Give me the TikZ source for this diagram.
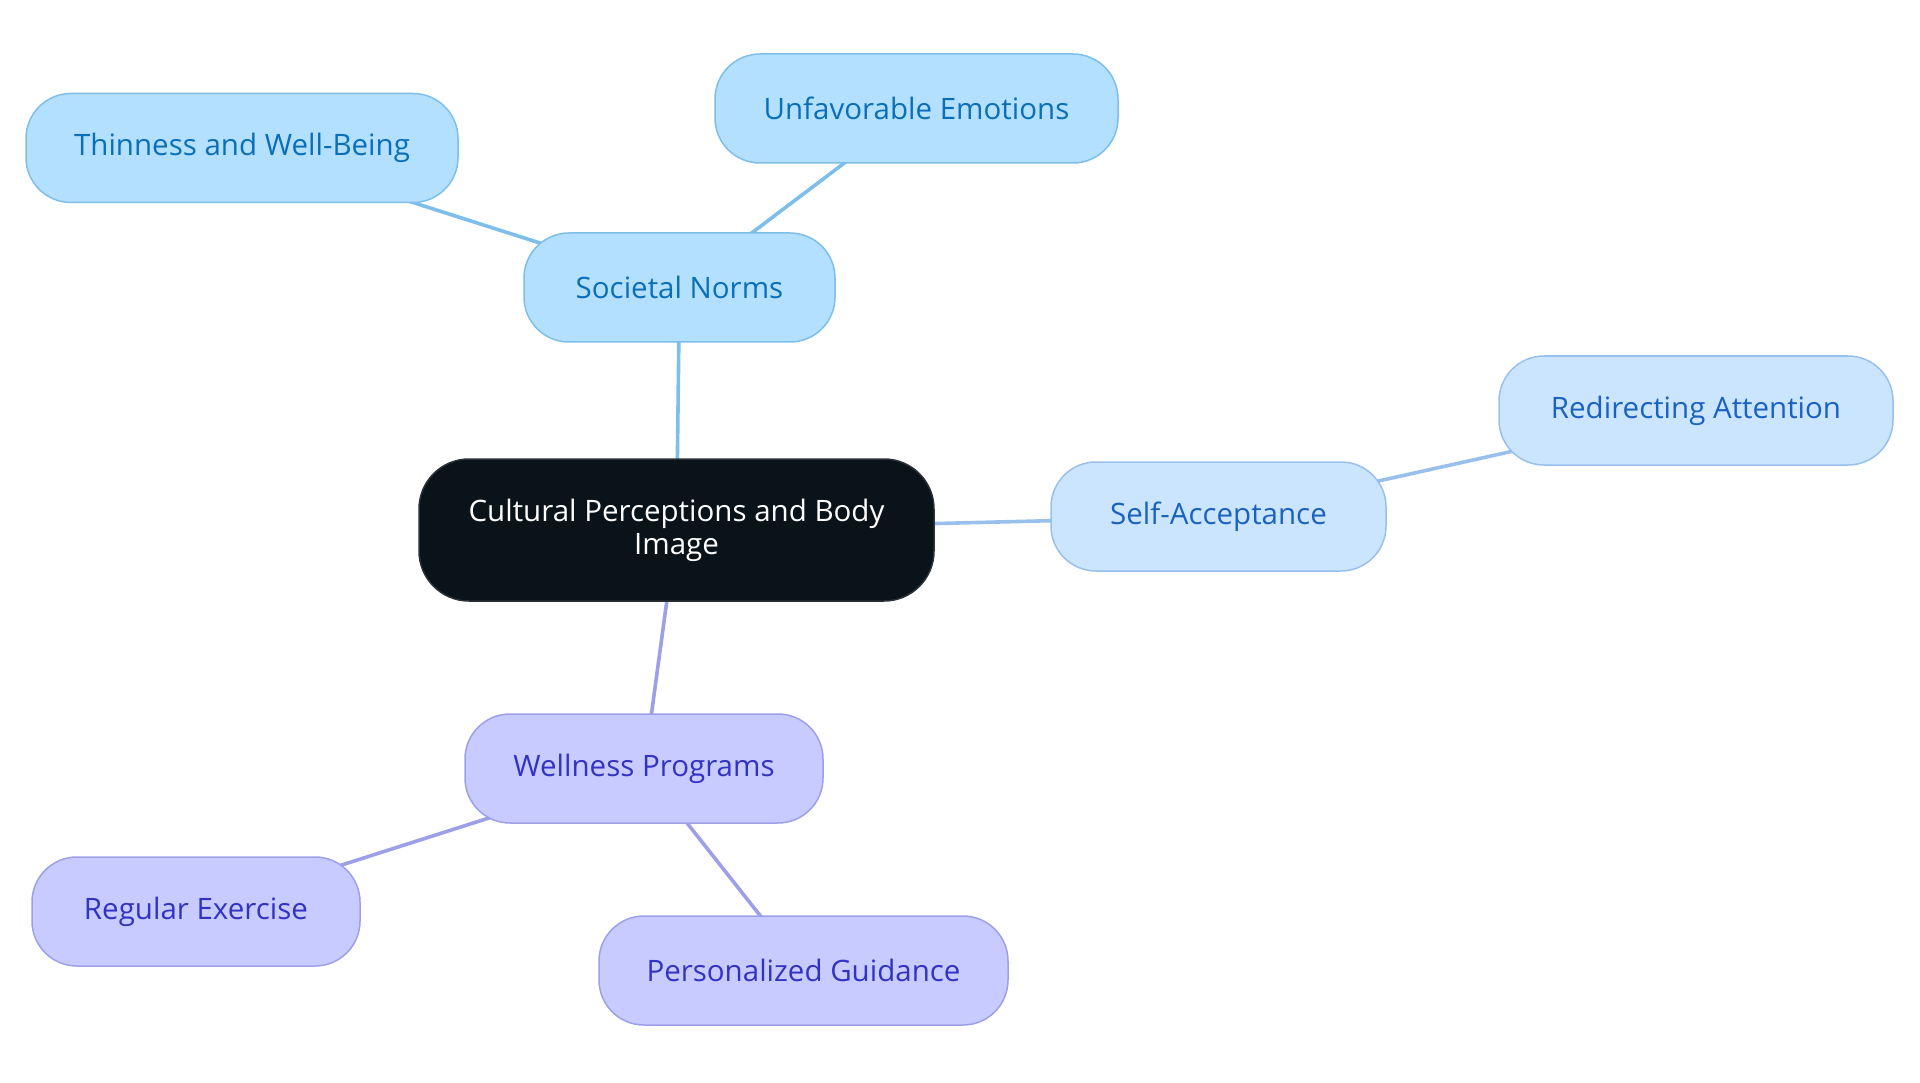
\documentclass[tikz,border=0pt]{standalone}
\usepackage{fontspec}
\setmainfont{Open Sans}
\usetikzlibrary{backgrounds}
\definecolor{snFill}{HTML}{B3E0FF}
\definecolor{snLine}{HTML}{7DBFEA}
\definecolor{snText}{HTML}{0B6FB8}
\definecolor{saFill}{HTML}{CCE5FF}
\definecolor{saLine}{HTML}{99C0EC}
\definecolor{saText}{HTML}{1A62C0}
\definecolor{wpFill}{HTML}{C8CBFF}
\definecolor{wpLine}{HTML}{9DA0E8}
\definecolor{wpText}{HTML}{3333C2}
\definecolor{ctFill}{HTML}{0B131A}
\definecolor{ctLine}{HTML}{2C3137}
\tikzset{
  pill/.style={draw, line width=1.5pt, rounded corners=45pt, minimum height=109pt, inner sep=0pt, font=\fontsize{29.5}{33}\selectfont},
  sn/.style={pill, fill=snFill, draw=snLine, text=snText},
  sa/.style={pill, fill=saFill, draw=saLine, text=saText},
  wp/.style={pill, fill=wpFill, draw=wpLine, text=wpText},
  ct/.style={draw=ctLine, fill=ctFill, text=white, line width=1.5pt, rounded corners=50pt, minimum width=515pt, minimum height=142pt, inner sep=0pt, align=center, font=\fontsize{29.5}{33}\selectfont},
  snE/.style={draw=snLine, line width=3.6pt},
  saE/.style={draw=saLine, line width=3.6pt},
  wpE/.style={draw=wpLine, line width=3.6pt}
}
\begin{document}
\begin{tikzpicture}[x=1pt,y=-1pt]
\useasboundingbox (0,0) rectangle (1920,1083);
\node[ct] (c) at (676.5,530) {Cultural Perceptions and Body\\Image};
\node[sn, minimum width=311pt] (s) at (679.5,287.5) {Societal Norms};
\node[sn, minimum width=432pt] (t) at (242,148) {Thinness and Well-Being};
\node[sn, minimum width=403pt] (u) at (916.5,108.5) {Unfavorable Emotions};
\node[sa, minimum width=335pt] (a) at (1218.5,516.5) {Self-Acceptance};
\node[sa, minimum width=394pt] (r) at (1696,410.5) {Redirecting Attention};
\node[wp, minimum width=358pt] (w) at (644,768.5) {Wellness Programs};
\node[wp, minimum width=328pt] (e) at (196,911.5) {Regular Exercise};
\node[wp, minimum width=409pt] (p) at (803.5,970.5) {Personalized Guidance};
\begin{scope}[on background layer]
\draw[snE] (c.center) -- (s.center);
\draw[snE] (s.center) -- (t.center);
\draw[snE] (s.center) -- (u.center);
\draw[saE] (c.center) -- (a.center);
\draw[saE] (a.center) -- (r.center);
\draw[wpE] (c.center) -- (w.center);
\draw[wpE] (w.center) -- (e.center);
\draw[wpE] (w.center) -- (p.center);
\end{scope}
\end{tikzpicture}
\end{document}
